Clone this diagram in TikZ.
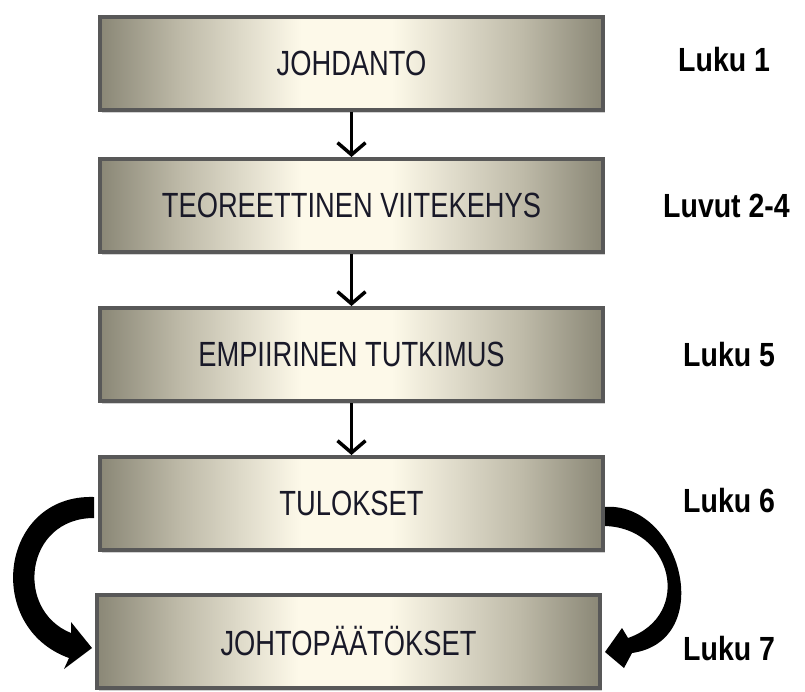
\documentclass[tikz,border=0pt]{standalone}
\usepackage{fontspec}
\usetikzlibrary{arrows.meta,shadows}
\newfontfamily\boxfont{Liberation Sans}[FakeStretch=0.78]
\newfontfamily\labfont{Liberation Sans Bold}[FakeStretch=0.85]
\definecolor{edgedark}{RGB}{138,135,118}
\definecolor{midtone}{RGB}{190,186,168}
\definecolor{cream}{RGB}{253,249,233}
\definecolor{borderc}{RGB}{88,88,88}
\definecolor{boxtext}{RGB}{25,25,40}
\pgfdeclarehorizontalshading{boxshade}{100bp}{%
  color(0bp)=(edgedark); color(25bp)=(edgedark); color(33bp)=(midtone);
  color(45bp)=(cream); color(54bp)=(cream); color(67bp)=(midtone);
  color(75bp)=(edgedark); color(100bp)=(edgedark)}
\tikzset{
  stagebox/.style={draw=borderc, line width=4pt, shading=boxshade,
    minimum width=503pt, minimum height=93pt, inner sep=0pt,
    font=\boxfont\fontsize{35}{40}\selectfont, text=boxtext,
    drop shadow={opacity=0.35, shadow xshift=2pt, shadow yshift=-3pt}},
  chaplabel/.style={anchor=base west, inner sep=0pt,
    font=\labfont\fontsize{33.5}{38}\selectfont, text=black},
  flow/.style={line width=3.5pt, -{Straight Barb[length=12pt,width=28pt]}},
  bigarrow/.style={fill=black}
}
\begin{document}
\begin{tikzpicture}[x=1pt,y=-1pt]
\fill[white] (0,0) rectangle (805,691);
\useasboundingbox (0,0) rectangle (805,691);

% curved thick arrows (drawn first, boxes cover their roots)
\fill[bigarrow] (94,497) .. controls (0,494) and (-17,627) .. (69,658)
  -- (64,669) -- (92,648) -- (71,622) -- (71,633)
  .. controls (14,610) and (25,518) .. (94,518) -- cycle;
\fill[bigarrow] (603,507) .. controls (682,500) and (717,641) .. (632,653)
  -- (624,668) -- (605,652) -- (622,628) -- (628,638)
  .. controls (694,615) and (672,526) .. (603,526) -- cycle;

\node[stagebox] (b1) at (351.5,63) {JOHDANTO};
\node[stagebox] (b2) at (351.5,205.5) {TEOREETTINEN VIITEKEHYS};
\node[stagebox] (b3) at (351.5,354.5) {EMPIIRINEN TUTKIMUS};
\node[stagebox] (b4) at (351.5,503.5) {TULOKSET};
\node[stagebox] (b5) at (348.5,641.5) {JOHTOPÄÄTÖKSET};

\draw[flow] (b1.south) -- (b2.north);
\draw[flow] (b2.south) -- (b3.north);
\draw[flow] (b3.south) -- (b4.north);

\node[chaplabel] (l1) at (678,71) {Luku 1};
\node[chaplabel] (l2) at (663,217) {Luvut 2-4};
\node[chaplabel] (l3) at (683,366) {Luku 5};
\node[chaplabel] (l4) at (683,512) {Luku 6};
\node[chaplabel] (l5) at (683,660) {Luku 7};
\end{tikzpicture}
\end{document}
